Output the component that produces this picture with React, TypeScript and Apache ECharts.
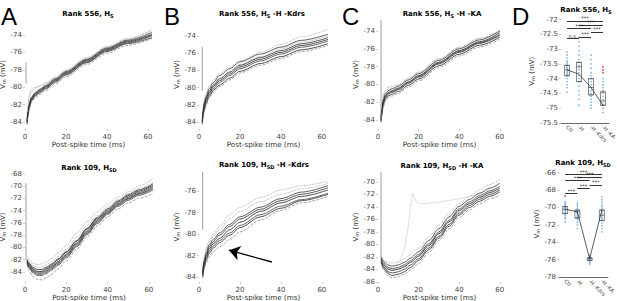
import React, { useEffect, useRef } from "react";
import * as echarts from "echarts";

// ---------- shared ----------
const X_TICKS = [0, 20, 40, 60];
const X_NAME = "Post-spike time (ms)";
const Y_NAME = "V{s|m} (mV)";

// ---------- Panel A top: Rank 556, H_S ----------
const A_TOP_TIME = [1, 1.5, 2, 3, 5, 7.5, 10, 15, 20, 30, 40, 50, 62];
const A_TOP_TRACES = [
  [-84.0, -83.0, -82.2, -81.4, -80.8, -80.4, -80.0, -79.2, -78.4, -77.0, -75.7, -74.8, -74.0],
  [-83.8, -82.8, -82.0, -81.2, -80.6, -80.2, -79.8, -79.0, -78.2, -76.8, -75.5, -74.6, -73.7],
  [-84.2, -83.2, -82.4, -81.6, -81.0, -80.6, -80.2, -79.4, -78.6, -77.2, -75.9, -75.0, -74.3],
  [-83.5, -82.0, -81.0, -80.3, -80.0, -79.8, -79.5, -78.8, -78.0, -76.6, -75.4, -74.5, -73.5],
  [-84.0, -83.1, -82.3, -81.5, -80.9, -80.5, -80.1, -79.3, -78.5, -77.1, -75.8, -74.9, -74.1],
  [-83.9, -82.9, -82.1, -81.3, -80.7, -80.3, -79.9, -79.1, -78.3, -76.9, -75.6, -74.7, -73.9],
  [-84.3, -83.4, -82.6, -81.8, -81.2, -80.8, -80.4, -79.6, -78.8, -77.4, -76.1, -75.2, -74.4],
  [-83.6, -82.4, -81.4, -80.6, -80.1, -79.9, -79.6, -78.9, -78.1, -76.7, -75.3, -74.4, -73.4],
];
const A_TOP_STUB = [0.5, -77.2, -79.6];
const A_TOP_YTICKS = [-84, -82, -80, -78, -76, -74];

// ---------- Panel A bottom: Rank 109, H_SD ----------
const A_BOT_TIME = [1, 2, 4, 6, 8, 10, 13, 16, 20, 25, 30, 35, 40, 45, 50, 55, 62];
const A_BOT_TRACES = [
  [-82.0, -82.6, -83.3, -83.6, -83.6, -83.3, -82.7, -81.9, -80.7, -78.9, -76.9, -75.1, -73.7, -72.4, -71.4, -70.6, -69.6],
  [-82.2, -82.9, -83.7, -84.0, -84.0, -83.7, -83.1, -82.3, -81.1, -79.3, -77.3, -75.5, -74.1, -72.8, -71.8, -71.0, -70.0],
  [-82.4, -83.1, -83.9, -84.2, -84.2, -83.9, -83.3, -82.5, -81.3, -79.5, -77.5, -75.7, -74.3, -73.0, -72.0, -71.2, -70.2],
  [-81.5, -82.0, -82.6, -82.8, -82.7, -82.4, -81.8, -80.9, -79.7, -77.7, -75.8, -74.2, -72.9, -71.8, -70.9, -70.0, -68.7],
  [-82.6, -83.4, -84.2, -84.6, -84.6, -84.3, -83.7, -82.9, -81.7, -79.9, -77.9, -76.1, -74.6, -73.3, -72.3, -71.5, -70.6],
  [-82.1, -82.8, -83.5, -83.9, -83.9, -83.5, -82.9, -82.0, -80.8, -79.0, -77.0, -75.3, -73.9, -72.6, -71.6, -70.8, -69.8],
  [-82.8, -83.8, -84.8, -85.2, -85.3, -85.0, -84.4, -83.5, -82.2, -80.3, -78.3, -76.5, -75.0, -73.7, -72.7, -72.0, -71.2],
  [-81.8, -82.3, -83.0, -83.3, -83.2, -82.9, -82.3, -81.5, -80.3, -78.4, -76.4, -74.8, -73.4, -72.2, -71.2, -70.4, -69.3],
  [-82.5, -83.3, -84.0, -84.4, -84.4, -84.1, -83.5, -82.7, -81.5, -79.7, -77.7, -75.9, -74.4, -73.1, -72.1, -71.3, -70.4],
];
const A_BOT_STUB = [0.5, -69.5, -82.0];
const A_BOT_YTICKS = [-84, -82, -80, -78, -76, -74, -72, -70, -68];

// ---------- Panel B top: Rank 556, H_S -H -Kdrs ----------
const B_TOP_TIME = [1.6, 2, 2.5, 3.5, 5, 7, 10, 15, 20, 30, 40, 50, 63];
const B_TOP_TRACES = [
  [-84.0, -83.0, -82.2, -81.4, -80.6, -79.9, -79.2, -78.4, -77.6, -76.7, -75.9, -75.1, -74.4],
  [-83.8, -82.7, -81.8, -81.0, -80.1, -79.4, -78.6, -77.8, -77.0, -76.1, -75.3, -74.5, -73.8],
  [-84.2, -83.3, -82.6, -81.8, -81.0, -80.3, -79.7, -78.9, -78.1, -77.2, -76.4, -75.6, -74.9],
  [-83.5, -82.3, -81.4, -80.6, -79.8, -79.1, -78.4, -77.6, -76.9, -75.9, -75.0, -74.1, -73.2],
  [-84.1, -83.1, -82.4, -81.6, -80.8, -80.1, -79.4, -78.6, -77.8, -76.9, -76.1, -75.3, -74.6],
  [-83.9, -82.9, -82.0, -81.2, -80.4, -79.7, -79.0, -78.2, -77.4, -76.5, -75.7, -74.9, -74.2],
  [-84.3, -83.5, -82.8, -82.0, -81.2, -80.5, -79.9, -79.1, -78.3, -77.4, -76.6, -75.8, -75.1],
  [-84.0, -82.8, -81.9, -81.1, -80.3, -79.6, -78.9, -78.1, -77.3, -76.4, -75.5, -74.7, -74.0],
];
const B_TOP_STUB = [1.6, -75.3, -80.4];
const B_TOP_YTICKS = [-84, -82, -80, -78, -76, -74];

// ---------- Panel B bottom: Rank 109, H_SD -H -Kdrs ----------
const B_BOT_TIME = [1.8, 2.5, 3.5, 5, 7, 10, 15, 20, 30, 40, 50, 63];
const B_BOT_TRACES = [
  [-83.8, -82.8, -82.1, -81.4, -80.9, -80.4, -79.6, -78.9, -77.9, -77.1, -76.5, -75.9],
  [-83.6, -82.5, -81.8, -81.0, -80.5, -79.9, -79.1, -78.4, -77.5, -76.7, -76.1, -75.5],
  [-84.0, -83.1, -82.4, -81.8, -81.3, -80.8, -80.1, -79.4, -78.4, -77.6, -76.9, -76.3],
  [-83.5, -82.2, -81.3, -80.6, -80.0, -79.3, -78.2, -77.5, -76.6, -75.9, -75.5, -75.1],
  [-83.9, -83.0, -82.3, -81.6, -81.1, -80.6, -79.9, -79.2, -78.2, -77.4, -76.8, -76.2],
  [-83.7, -82.6, -81.9, -81.2, -80.7, -80.1, -79.3, -78.6, -77.7, -76.9, -76.3, -75.7],
  [-84.1, -83.3, -82.7, -82.1, -81.6, -81.2, -80.5, -79.8, -78.7, -77.8, -77.1, -76.5],
  [-83.6, -82.4, -81.5, -80.8, -80.2, -79.6, -78.6, -77.9, -77.0, -76.3, -75.8, -75.3],
];
const B_BOT_STUB = [1.8, -74.0, -79.6];
const B_BOT_YTICKS = [-84, -82, -80, -78, -76];
const B_BOT_ARROW_FROM = [35.6, -82.6];
const B_BOT_ARROW_TO = [14.6, -81.5];

// ---------- Panel C top: Rank 556, H_S -H -KA ----------
const C_TOP_TIME = [1.5, 2, 2.5, 3.5, 5, 7, 10, 15, 20, 30, 40, 50, 60];
const C_TOP_TRACES = [
  [-84.0, -83.0, -82.1, -81.4, -81.0, -80.8, -80.5, -79.8, -79.1, -77.6, -76.3, -75.3, -74.4],
  [-83.8, -82.7, -81.8, -81.1, -80.7, -80.5, -80.2, -79.5, -78.8, -77.3, -76.0, -75.0, -74.0],
  [-84.2, -83.3, -82.4, -81.7, -81.3, -81.1, -80.8, -80.1, -79.4, -77.9, -76.6, -75.6, -74.7],
  [-83.5, -82.1, -81.2, -80.6, -80.3, -80.2, -80.0, -79.3, -78.6, -77.1, -75.8, -74.8, -73.9],
  [-84.1, -83.1, -82.2, -81.5, -81.1, -80.9, -80.6, -79.9, -79.2, -77.7, -76.4, -75.4, -74.5],
  [-83.9, -82.9, -82.0, -81.3, -80.9, -80.7, -80.4, -79.7, -79.0, -77.5, -76.2, -75.2, -74.2],
  [-84.3, -83.4, -82.6, -81.9, -81.5, -81.3, -81.0, -80.3, -79.6, -78.1, -76.8, -75.8, -74.9],
  [-83.7, -82.5, -81.5, -80.9, -80.5, -80.4, -80.1, -79.4, -78.7, -77.2, -75.9, -74.9, -74.0],
];
const C_TOP_STUB = [1.5, -72.0, -84.0];
const C_TOP_YTICKS = [-84, -82, -80, -78, -76, -74];

// ---------- Panel C bottom: Rank 109, H_SD -H -KA ----------
const C_BOT_TIME = [1.5, 3, 5, 7, 10, 13, 16, 20, 25, 30, 35, 40, 45, 50, 55, 60];
const C_BOT_TRACES = [
  [-82.4, -83.4, -84.0, -84.2, -84.0, -83.6, -82.9, -81.9, -80.2, -78.3, -76.4, -74.6, -73.5, -72.5, -71.7, -71.0],
  [-82.0, -82.8, -83.3, -83.5, -83.3, -82.9, -82.2, -81.2, -79.4, -77.5, -75.6, -73.9, -72.8, -71.8, -71.0, -70.2],
  [-82.8, -83.9, -84.7, -85.0, -84.8, -84.4, -83.7, -82.6, -80.9, -79.0, -77.1, -75.3, -74.1, -73.1, -72.3, -71.6],
  [-81.8, -82.5, -82.9, -83.0, -82.8, -82.3, -81.6, -80.6, -78.8, -76.9, -75.0, -73.4, -72.3, -71.3, -70.4, -69.6],
  [-82.2, -83.1, -83.7, -83.9, -83.7, -83.3, -82.6, -81.6, -79.9, -78.0, -76.1, -74.3, -73.2, -72.2, -71.4, -70.7],
  [-82.6, -83.7, -84.4, -84.6, -84.4, -84.0, -83.3, -82.3, -80.6, -78.7, -76.8, -75.0, -73.8, -72.8, -72.0, -71.3],
  [-83.0, -84.2, -85.1, -85.4, -85.2, -84.8, -84.1, -83.1, -81.3, -79.4, -77.5, -75.7, -74.5, -73.5, -72.7, -72.1],
  [-82.3, -83.3, -83.9, -84.1, -83.9, -83.5, -82.8, -81.8, -80.1, -78.2, -76.3, -74.5, -73.4, -72.4, -71.6, -70.9],
];
const C_BOT_ODD_TIME = [1.5, 5, 8, 11, 13, 15, 16, 17, 18, 19, 21, 25, 30, 40, 50, 60];
const C_BOT_ODD_TRACE = [-82.5, -83.8, -83.6, -82.5, -80.8, -77.0, -74.0, -71.8, -72.6, -73.2, -73.5, -73.4, -73.2, -72.7, -72.0, -71.2];
const C_BOT_STUB = [1.5, -67.0, -82.0];
const C_BOT_YTICKS = [-86, -84, -82, -80, -78, -76, -74, -72, -70];

// ---------- Panel D ----------
const CATS = ["Ctl", "-H", "-H -Kdrs", "-H -KA"];
// [Q1, median, Q3]
const D_TOP_BOX = [
  [-73.9, -73.7, -73.55],
  [-74.1, -73.6, -73.45],
  [-74.55, -74.3, -74.0],
  [-74.9, -74.75, -74.45],
];
const D_TOP_MEAN = [-73.7, -73.85, -74.3, -74.9];
const D_TOP_DOTS = [
  [-73.1, -73.2, -73.3, -73.4, -73.45, -73.5, -73.55, -73.6, -73.65, -73.7, -73.75, -73.8, -73.85, -73.9, -74.0, -74.1, -74.2, -74.3, -74.45],
  [-72.6, -72.75, -72.9, -73.05, -73.2, -73.35, -73.45, -73.55, -73.6, -73.7, -73.8, -73.9, -74.0, -74.1, -74.25, -74.4, -74.55, -74.7, -74.9],
  [-73.2, -73.35, -73.5, -73.65, -73.8, -73.9, -74.0, -74.1, -74.2, -74.3, -74.4, -74.5, -74.6, -74.7, -74.8, -74.9, -75.0],
  [-74.0, -74.1, -74.2, -74.3, -74.4, -74.5, -74.6, -74.7, -74.8, -74.9, -75.0, -75.15],
];
const D_TOP_OUTLIERS = [[3, -73.6], [3, -73.7], [3, -73.8]];
const D_TOP_SIG_PAIRS = [[0, 3], [1, 3], [0, 2], [2, 3], [1, 2], [0, 1]];
const D_TOP_SIG_LEVELS = [-72.06, -72.18, -72.31, -72.43, -72.6, -72.64];
const D_TOP_SIG_LABELS = ["***", "***", "***", "***", "***", "n.s."];
const D_TOP_YTICKS = [-75.5, -75, -74.5, -74, -73.5, -73, -72.5, -72];

const D_BOT_BOX = [
  [-70.7, -70.2, -69.9],
  [-71.2, -70.5, -70.3],
  [-76.1, -75.9, -75.8],
  [-71.5, -70.9, -70.3],
];
const D_BOT_MEAN = [-70.2, -70.5, -75.9, -70.3];
const D_BOT_DOTS = [
  [-69.35, -69.5, -69.65, -69.8, -69.9, -70.0, -70.1, -70.2, -70.3, -70.4, -70.55, -70.7, -70.9, -71.1, -71.3, -71.65],
  [-69.5, -69.7, -69.9, -70.1, -70.3, -70.4, -70.5, -70.6, -70.75, -70.9, -71.05, -71.2, -71.4, -71.7, -72.0, -72.4],
  [-75.5, -75.6, -75.7, -75.8, -75.85, -75.9, -75.95, -76.0, -76.1, -76.2, -76.35, -76.5],
  [-68.8, -69.1, -69.4, -69.7, -69.9, -70.1, -70.3, -70.5, -70.7, -70.9, -71.1, -71.3, -71.5, -71.8, -72.1, -72.4, -72.8],
];
const D_BOT_OUTLIERS = [[0, -68.7]];
const D_BOT_SIG_PAIRS = [[0, 3], [1, 3], [0, 2], [2, 3], [1, 2], [0, 1]];
const D_BOT_SIG_LEVELS = [-66.2, -66.5, -66.9, -67.4, -67.8, -68.4];
const D_BOT_SIG_LABELS = ["***", "***", "***", "***", "***", "***"];
const D_BOT_YTICKS = [-78, -76, -74, -72, -70, -68, -66];

// ---------- styling ----------
const FONT = "DejaVu Sans";
const TRACE_STYLES = [
  { c: "#1e1e1e", t: "solid", w: 0.8 },
  { c: "#333", t: "solid", w: 0.8 },
  { c: "#262626", t: "solid", w: 0.8 },
  { c: "#9a9a9a", t: "dotted", w: 0.8 },
  { c: "#3c3c3c", t: "solid", w: 0.8 },
  { c: "#2a2a2a", t: "solid", w: 0.8 },
  { c: "#777", t: "dashed", w: 0.7 },
  { c: "#999", t: "dotted", w: 0.8 },
  { c: "#444", t: "solid", w: 0.8 },
];

type GridSpec = { left: number; top: number; width: number; height: number; xmax: number; ymin: number; ymax: number };
const GRIDS: GridSpec[] = [
  { left: 25, top: 20, width: 127, height: 109, xmax: 62, ymin: -84.8, ymax: -72.28 },
  { left: 25, top: 172, width: 128, height: 110, xmax: 62, ymin: -85.65, ymax: -67.67 },
  { left: 199, top: 20, width: 129, height: 109, xmax: 63, ymin: -84.81, ymax: -72.14 },
  { left: 199, top: 172, width: 129, height: 110, xmax: 63, ymin: -84.46, ymax: -74.23 },
  { left: 378, top: 20, width: 123, height: 109, xmax: 60.6, ymin: -85.01, ymax: -72.76 },
  { left: 378, top: 172, width: 123, height: 110, xmax: 60.6, ymin: -86.04, ymax: -68.4 },
  { left: 561, top: 19.5, width: 48, height: 103.5, xmax: 0, ymin: -75.5, ymax: -72 },
  { left: 559, top: 171, width: 49, height: 106, xmax: 0, ymin: -78, ymax: -65.8 },
];
const Y_TICKS = [A_TOP_YTICKS, A_BOT_YTICKS, B_TOP_YTICKS, B_BOT_YTICKS, C_TOP_YTICKS, C_BOT_YTICKS, D_TOP_YTICKS, D_BOT_YTICKS];
const Y_NAME_GAP = [13, 13, 14, 14, 13, 13, 16, 17];

const subRich = (color: string, bold: boolean) => ({
  s: { fontSize: 5, fontFamily: FONT, fontWeight: bold ? "bold" : "normal", color, fill: color, verticalAlign: "bottom", padding: [3, 0, 0, 0] },
});

function traceSeries(idx: number, time: number[], list: number[][], stub: number[]) {
  const out: any[] = list.map((tr, k) => {
    const st = TRACE_STYLES[k % TRACE_STYLES.length];
    return {
      type: "line", xAxisIndex: idx, yAxisIndex: idx, symbol: "none", silent: true, clip: true,
      smooth: 0.3, smoothMonotone: "x",
      lineStyle: { color: st.c, width: st.w, type: st.t },
      data: time.map((t, i) => [t, tr[i]]),
      z: k === 3 || k === 7 ? 1 : 2,
    };
  });
  out.push({
    type: "line", xAxisIndex: idx, yAxisIndex: idx, symbol: "none", silent: true, clip: true,
    lineStyle: { color: "#777", width: 0.7 },
    data: [[stub[0], stub[1]], [stub[0], stub[2]]],
  });
  return out;
}

function dSeries(idx: number, box: number[][], mean: number[], dots: number[][], outliers: number[][], pairs: number[][], levels: number[], labels: string[]) {
  return [
    {
      type: "scatter", xAxisIndex: idx, yAxisIndex: idx, silent: true, symbol: "circle", symbolSize: 1.6,
      itemStyle: { color: "#5b9bd5" },
      data: dots.flatMap((arr, ci) => arr.map((v) => [ci, v])),
      z: 2,
    },
    {
      type: "boxplot", xAxisIndex: idx, yAxisIndex: idx, silent: true, boxWidth: [5, 5],
      itemStyle: { color: "transparent", borderColor: "#555", borderWidth: 0.7 },
      data: box.map((b) => [b[0], b[0], b[1], b[2], b[2]]),
      z: 3,
    },
    {
      type: "scatter", xAxisIndex: idx, yAxisIndex: idx, silent: true, symbol: "circle", symbolSize: 2,
      itemStyle: { color: "#e04646" },
      data: outliers,
      z: 4,
    },
    {
      type: "line", xAxisIndex: idx, yAxisIndex: idx, silent: true, symbol: "none",
      lineStyle: { color: "#333", width: 0.8 },
      data: mean.map((v, i) => [i, v]),
      z: 5,
      markLine: {
        silent: true, symbol: ["none", "none"], animation: false,
        lineStyle: { color: "#333", width: 1, type: "solid" },
        label: { show: true, position: "insideMiddleTop", formatter: "{b}", fontSize: 5, color: "#222", distance: 0.3, fontFamily: FONT },
        data: pairs.map((p, i) => [
          { coord: [p[0], levels[i]], name: labels[i] },
          { coord: [p[1], levels[i]] },
        ]),
      },
    },
  ];
}

const TITLES = [
  { x: 88, y: 14, text: "Rank 556, H{s|S}" },
  { x: 89, y: 168, text: "Rank 109, H{s|SD}" },
  { x: 262, y: 14, text: "Rank 556, H{s|S} -H -Kdrs" },
  { x: 264, y: 165, text: "Rank 109, H{s|SD} -H -Kdrs" },
  { x: 442, y: 14, text: "Rank 556, H{s|S} -H -KA" },
  { x: 442, y: 166, text: "Rank 109, H{s|SD} -H -KA" },
  { x: 586, y: 10, text: "Rank 556, H{s|S}" },
  { x: 583, y: 163, text: "Rank 109, H{s|SD}" },
];
const LETTERS = [
  { x: 1, text: "A" },
  { x: 164, text: "B" },
  { x: 342, text: "C" },
  { x: 512, text: "D" },
];

function buildOption() {
  const grid = GRIDS.map((g) => ({ left: g.left, top: g.top, width: g.width, height: g.height, outerBoundsMode: "none", containLabel: false }));
  const xAxis: any[] = GRIDS.map((g, i) => {
    if (i >= 6) {
      return {
        type: "category", gridIndex: i, data: CATS, boundaryGap: true,
        axisLine: { show: true, lineStyle: { color: "#444", width: 0.8 } },
        axisTick: { show: false },
        axisLabel: { rotate: -45, fontSize: 5.3, margin: 3, color: "#444", interval: 0, fontFamily: FONT },
        splitLine: { show: false },
      };
    }
    return {
      type: "value", gridIndex: i, min: 0, max: g.xmax,
      axisLine: { show: false },
      axisTick: { show: true, length: 2, customValues: X_TICKS, lineStyle: { color: "#aaa", width: 0.6 } },
      axisLabel: { customValues: X_TICKS, fontSize: 7, margin: 4, color: "#444", fontFamily: FONT },
      splitLine: { show: false },
      name: X_NAME, nameLocation: "middle", nameGap: i % 2 === 0 ? 12 : 8,
      nameTextStyle: { fontSize: 7.2, color: "#333", fontFamily: FONT },
    };
  });
  const yAxis: any[] = GRIDS.map((g, i) => ({
    type: "value", gridIndex: i, min: g.ymin, max: g.ymax,
    axisLine: { show: false },
    axisTick: { show: true, length: 2, customValues: Y_TICKS[i], lineStyle: { color: "#aaa", width: 0.6 } },
    axisLabel: { customValues: Y_TICKS[i], fontSize: 7, margin: 3, color: "#444", fontFamily: FONT },
    splitLine: { show: false },
    name: Y_NAME, nameLocation: "middle", nameGap: Y_NAME_GAP[i], nameRotate: 90,
    nameTextStyle: { fontSize: 7, color: "#333", fontFamily: FONT, rich: subRich("#333", false) },
  }));

  const bBot = traceSeries(3, B_BOT_TIME, B_BOT_TRACES, B_BOT_STUB);
  bBot[0].markLine = {
    silent: true, symbol: ["none", "arrow"], symbolSize: 11, animation: false,
    lineStyle: { color: "#000", width: 1.3, type: "solid" },
    itemStyle: { color: "#000" },
    label: { show: false },
    data: [[{ coord: B_BOT_ARROW_FROM }, { coord: B_BOT_ARROW_TO }]],
  };

  const series: any[] = [
    ...traceSeries(0, A_TOP_TIME, A_TOP_TRACES, A_TOP_STUB),
    ...traceSeries(1, A_BOT_TIME, A_BOT_TRACES, A_BOT_STUB),
    ...traceSeries(2, B_TOP_TIME, B_TOP_TRACES, B_TOP_STUB),
    ...bBot,
    ...traceSeries(4, C_TOP_TIME, C_TOP_TRACES, C_TOP_STUB),
    ...traceSeries(5, C_BOT_TIME, C_BOT_TRACES, C_BOT_STUB),
    {
      type: "line", xAxisIndex: 5, yAxisIndex: 5, symbol: "none", silent: true, clip: true,
      lineStyle: { color: "#aaa", width: 0.7, type: "dotted" },
      data: C_BOT_ODD_TIME.map((t, i) => [t, C_BOT_ODD_TRACE[i]]),
    },
    ...dSeries(6, D_TOP_BOX, D_TOP_MEAN, D_TOP_DOTS, D_TOP_OUTLIERS, D_TOP_SIG_PAIRS, D_TOP_SIG_LEVELS, D_TOP_SIG_LABELS),
    ...dSeries(7, D_BOT_BOX, D_BOT_MEAN, D_BOT_DOTS, D_BOT_OUTLIERS, D_BOT_SIG_PAIRS, D_BOT_SIG_LEVELS, D_BOT_SIG_LABELS),
  ];

  const graphic: any[] = [
    ...TITLES.map((t) => ({
      type: "text", x: t.x, y: t.y, silent: true,
      style: {
        text: t.text, fontSize: 7, fontWeight: "bold", fontFamily: FONT, fill: "#000",
        align: "center", textAlign: "center", verticalAlign: "middle", textVerticalAlign: "middle",
        rich: subRich("#000", true),
      },
    })),
    ...LETTERS.map((l) => ({
      type: "text", x: l.x, y: 4, silent: true,
      style: {
        text: l.text, fontSize: 24, fontFamily: "Liberation Sans", fill: "#000",
        align: "left", textAlign: "left", verticalAlign: "top", textVerticalAlign: "top",
      },
    })),
  ];

  return { animation: false, backgroundColor: "#fff", grid, xAxis, yAxis, series, graphic };
}

export default function App() {
  const ref = useRef<HTMLDivElement>(null);
  useEffect(() => {
    if (!ref.current) return;
    const chart = echarts.init(ref.current, undefined, { renderer: "svg" });
    chart.setOption(buildOption() as any);
    return () => chart.dispose();
  }, []);
  return <div ref={ref} style={{ position: "fixed", left: 0, top: 0, width: 617, height: 301, background: "#fff" }} />;
}
